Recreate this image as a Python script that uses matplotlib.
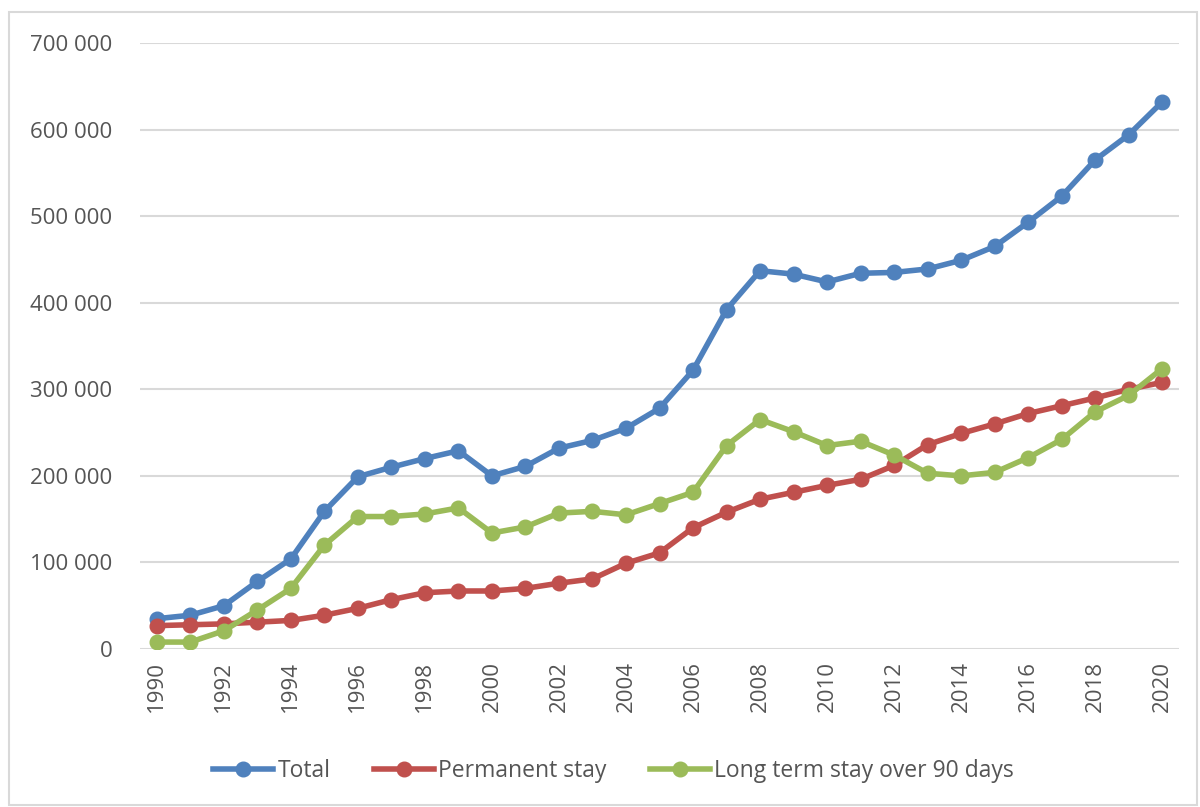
import matplotlib.pyplot as plt
from matplotlib.patches import Rectangle
from matplotlib.ticker import FuncFormatter

years = list(range(1990, 2021))
total = [35000, 39000, 50000, 78000, 104000, 159000, 199000, 210000, 220000, 229000,
         200000, 211000, 232000, 241000, 255000, 278000, 322000, 392000, 437000, 433000,
         424000, 434000, 435000, 439000, 449000, 465000, 493000, 523000, 565000, 594000, 632000]
permanent = [27000, 28000, 29000, 31000, 33000, 39000, 47000, 57000, 65000, 67000,
             67000, 70000, 76000, 81000, 99000, 111000, 140000, 158000, 173000, 181000,
             189000, 196000, 212000, 236000, 249000, 260000, 272000, 281000, 290000, 300000, 308000]
long_term = [8000, 8000, 21000, 45000, 70000, 120000, 153000, 153000, 156000, 163000,
             134000, 141000, 157000, 159000, 155000, 168000, 181000, 235000, 265000, 251000,
             235000, 240000, 224000, 203000, 200000, 204000, 221000, 242000, 274000, 293000, 324000]

plt.rcParams['font.family'] = ['Open Sans', 'DejaVu Sans']
txt = '#555555'

fig = plt.figure(figsize=(12, 8.07), dpi=100)
ax = fig.add_axes([0.1167, 0.1958, 0.8658, 0.7509])

# light frame around the chart
fig.patches.append(Rectangle((9/1200, 2/807), 1188/1200, 793/807, transform=fig.transFigure,
                             fill=False, edgecolor='#d9d9d9', linewidth=1.5))

ax.plot(years, total, color='#4F81BD', lw=4, marker='o', ms=10.5, label='Total', zorder=3)
ax.plot(years, permanent, color='#C0504D', lw=4, marker='o', ms=10.5, label='Permanent stay', zorder=3)
ax.plot(years, long_term, color='#9BBB59', lw=4, marker='o', ms=10.5, label='Long term stay over 90 days', zorder=3)

ax.set_xlim(1989.5, 2020.5)
ax.set_ylim(0, 700000)
ax.set_yticks(range(0, 700001, 100000))
ax.yaxis.set_major_formatter(FuncFormatter(lambda v, p: f'{int(v):,}'.replace(',', ' ')))
ax.set_xticks(years[::2])
ax.tick_params(axis='x', rotation=90, length=0, pad=9, labelsize=16, colors=txt)
ax.tick_params(axis='y', length=0, pad=20, labelsize=16, colors=txt)
ax.grid(axis='y', color='#d9d9d9', lw=1.5)
ax.set_axisbelow(True)
for s in ax.spines.values():
    s.set_visible(False)

leg = ax.legend(loc='center', bbox_to_anchor=(0.456, -0.202), ncol=3, frameon=False,
                fontsize=16.5, handlelength=2.6, handletextpad=0.2, columnspacing=1.9)
for t in leg.get_texts():
    t.set_color(txt)

fig.savefig('out.png', dpi=100)
